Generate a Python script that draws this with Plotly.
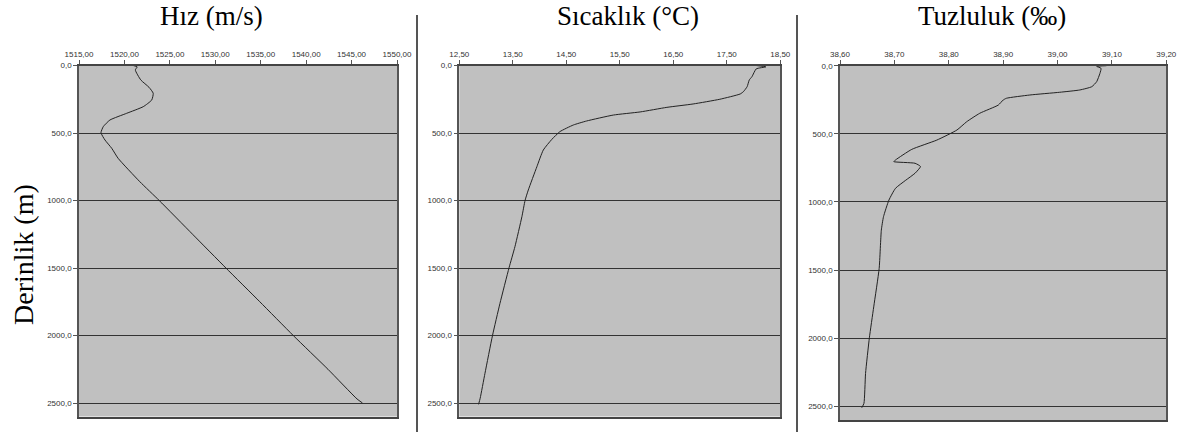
import plotly.graph_objects as go

# ---- data ----
hiz_depth = [0, 10, 33, 107, 161, 206, 256, 305, 354, 404, 453, 498, 552, 613, 687, 861, 1000, 1250, 1500, 1750, 2000, 2250, 2470, 2500]
hiz_value = [1520.97, 1521.4, 1521.2, 1521.8, 1522.7, 1523.17, 1523.0, 1522.07, 1520.25, 1518.4, 1517.67, 1517.42, 1517.86, 1518.6, 1519.3, 1521.7, 1523.83, 1527.5, 1531.17, 1534.9, 1538.58, 1542.4, 1545.6, 1546.2]

sic_depth = [0, 10, 25, 83, 107, 157, 194, 211, 250, 285, 310, 344, 367, 411, 441, 490, 547, 626, 750, 922, 998, 1120, 1342, 1498, 1762, 2001, 2280, 2465, 2510]
sic_value = [18.05, 18.23, 18.05, 17.97, 17.92, 17.88, 17.81, 17.75, 17.37, 16.87, 16.38, 15.88, 15.38, 14.88, 14.63, 14.38, 14.23, 14.07, 13.95, 13.79, 13.73, 13.67, 13.54, 13.43, 13.26, 13.12, 12.98, 12.89, 12.86]

tuz_depth = [0, 5, 19, 56, 117, 154, 178, 195, 215, 239, 252, 289, 349, 411, 472, 546, 614, 692, 704, 716, 740, 789, 843, 900, 986, 1108, 1207, 1488, 1770, 1997, 2258, 2478, 2510]
tuz_value = [39.09, 39.072, 39.08, 39.078, 39.072, 39.063, 39.041, 39.004, 38.949, 38.906, 38.900, 38.891, 38.857, 38.833, 38.815, 38.778, 38.732, 38.702, 38.699, 38.738, 38.748, 38.738, 38.720, 38.702, 38.690, 38.680, 38.676, 38.672, 38.662, 38.654, 38.647, 38.644, 38.640]

hiz_ticks = [1515, 1520, 1525, 1530, 1535, 1540, 1545, 1550]
hiz_ticktext = ["1515,00", "1520,00", "1525,00", "1530,00", "1535,00", "1540,00", "1545,00", "1550,00"]
sic_ticks = [12.5, 13.5, 14.5, 15.5, 16.5, 17.5, 18.5]
sic_ticktext = ["12,50", "13,50", "14,50", "15,50", "16,50", "17,50", "18,50"]
tuz_ticks = [38.6, 38.7, 38.8, 38.9, 39.0, 39.1, 39.2]
tuz_ticktext = ["38,60", "38,70", "38,80", "38,90", "39,00", "39,10", "39,20"]
depth_ticks = [0, 500, 1000, 1500, 2000, 2500]
depth_ticktext = ["0,0", "500,0", "1000,0", "1500,0", "2000,0", "2500,0"]

titles = ["Hız (m/s)", "Sıcaklık (°C)", "Tuzluluk (‰)"]
y_title = "Derinlik (m)"

# ---- figure ----
W, H = 1202, 436
fig = go.Figure()

def px_x(p):
    return p / W

def px_y(p):
    return 1 - p / H

panels = [
    dict(x=hiz_value, y=hiz_depth, ticks=hiz_ticks, text=hiz_ticktext, rng=[1515, 1550], dom=(79, 397), ydom=(65.5, 416.5), cx=211),
    dict(x=sic_value, y=sic_depth, ticks=sic_ticks, text=sic_ticktext, rng=[12.5, 18.5], dom=(459.3, 780.3), ydom=(65.5, 416.5), cx=628),
    dict(x=tuz_value, y=tuz_depth, ticks=tuz_ticks, text=tuz_ticktext, rng=[38.6, 39.2], dom=(840, 1166.3), ydom=(65.7, 420.0), cx=992),
]

tickfont = dict(family="Liberation Sans, Arial, sans-serif", size=8, color="#333333")

for i, p in enumerate(panels):
    n = "" if i == 0 else str(i + 1)
    fig.add_trace(go.Scatter(
        x=p["x"], y=p["y"], mode="lines",
        line=dict(color="#222222", width=1, shape="spline", smoothing=0.5),
        xaxis="x" + n, yaxis="y" + n, showlegend=False, hoverinfo="x+y",
    ))
    fig.layout["xaxis" + n] = dict(
        domain=[px_x(p["dom"][0]), px_x(p["dom"][1])],
        anchor="y" + n, side="top", range=p["rng"], automargin=False,
        tickvals=p["ticks"], ticktext=p["text"], tickfont=tickfont,
        ticks="outside", ticklen=4, tickcolor="#555555", tickwidth=1,
        showgrid=False, zeroline=False,
        showline=True, linecolor="#444444", linewidth=1.5, mirror=True,
    )
    fig.layout["yaxis" + n] = dict(
        domain=[px_y(p["ydom"][1]), px_y(p["ydom"][0])],
        anchor="x" + n, range=[2600, 0], automargin=False,
        tickvals=depth_ticks, ticktext=depth_ticktext, tickfont=tickfont,
        ticks="outside", ticklen=4, tickcolor="#555555", tickwidth=1,
        showgrid=True, gridcolor="#333333", gridwidth=1.3,
        zeroline=False,
        showline=True, linecolor="#555555", linewidth=1.5, mirror=True,
    )
    fig.add_annotation(
        text=titles[i], xref="paper", yref="paper",
        x=px_x(p["cx"]), y=px_y(16), xanchor="center", yanchor="middle",
        showarrow=False,
        font=dict(family="Liberation Serif, Times New Roman, serif", size=27, color="#000000"),
    )

fig.add_annotation(
    text=y_title, xref="paper", yref="paper",
    x=px_x(23), y=px_y(255), xanchor="center", yanchor="middle",
    textangle=-90, showarrow=False,
    font=dict(family="Liberation Serif, Times New Roman, serif", size=28, color="#000000"),
)

for sx in (417, 797):
    fig.add_shape(
        type="line", xref="paper", yref="paper",
        x0=px_x(sx), x1=px_x(sx), y0=px_y(432), y1=px_y(15),
        line=dict(color="#555555", width=2),
    )

fig.update_layout(
    width=W, height=H,
    margin=dict(l=0, r=0, t=0, b=0),
    paper_bgcolor="#ffffff", plot_bgcolor="#c0c0c0",
    showlegend=False,
)

fig.write_html("out.html", include_plotlyjs=True, config={"displayModeBar": False})
